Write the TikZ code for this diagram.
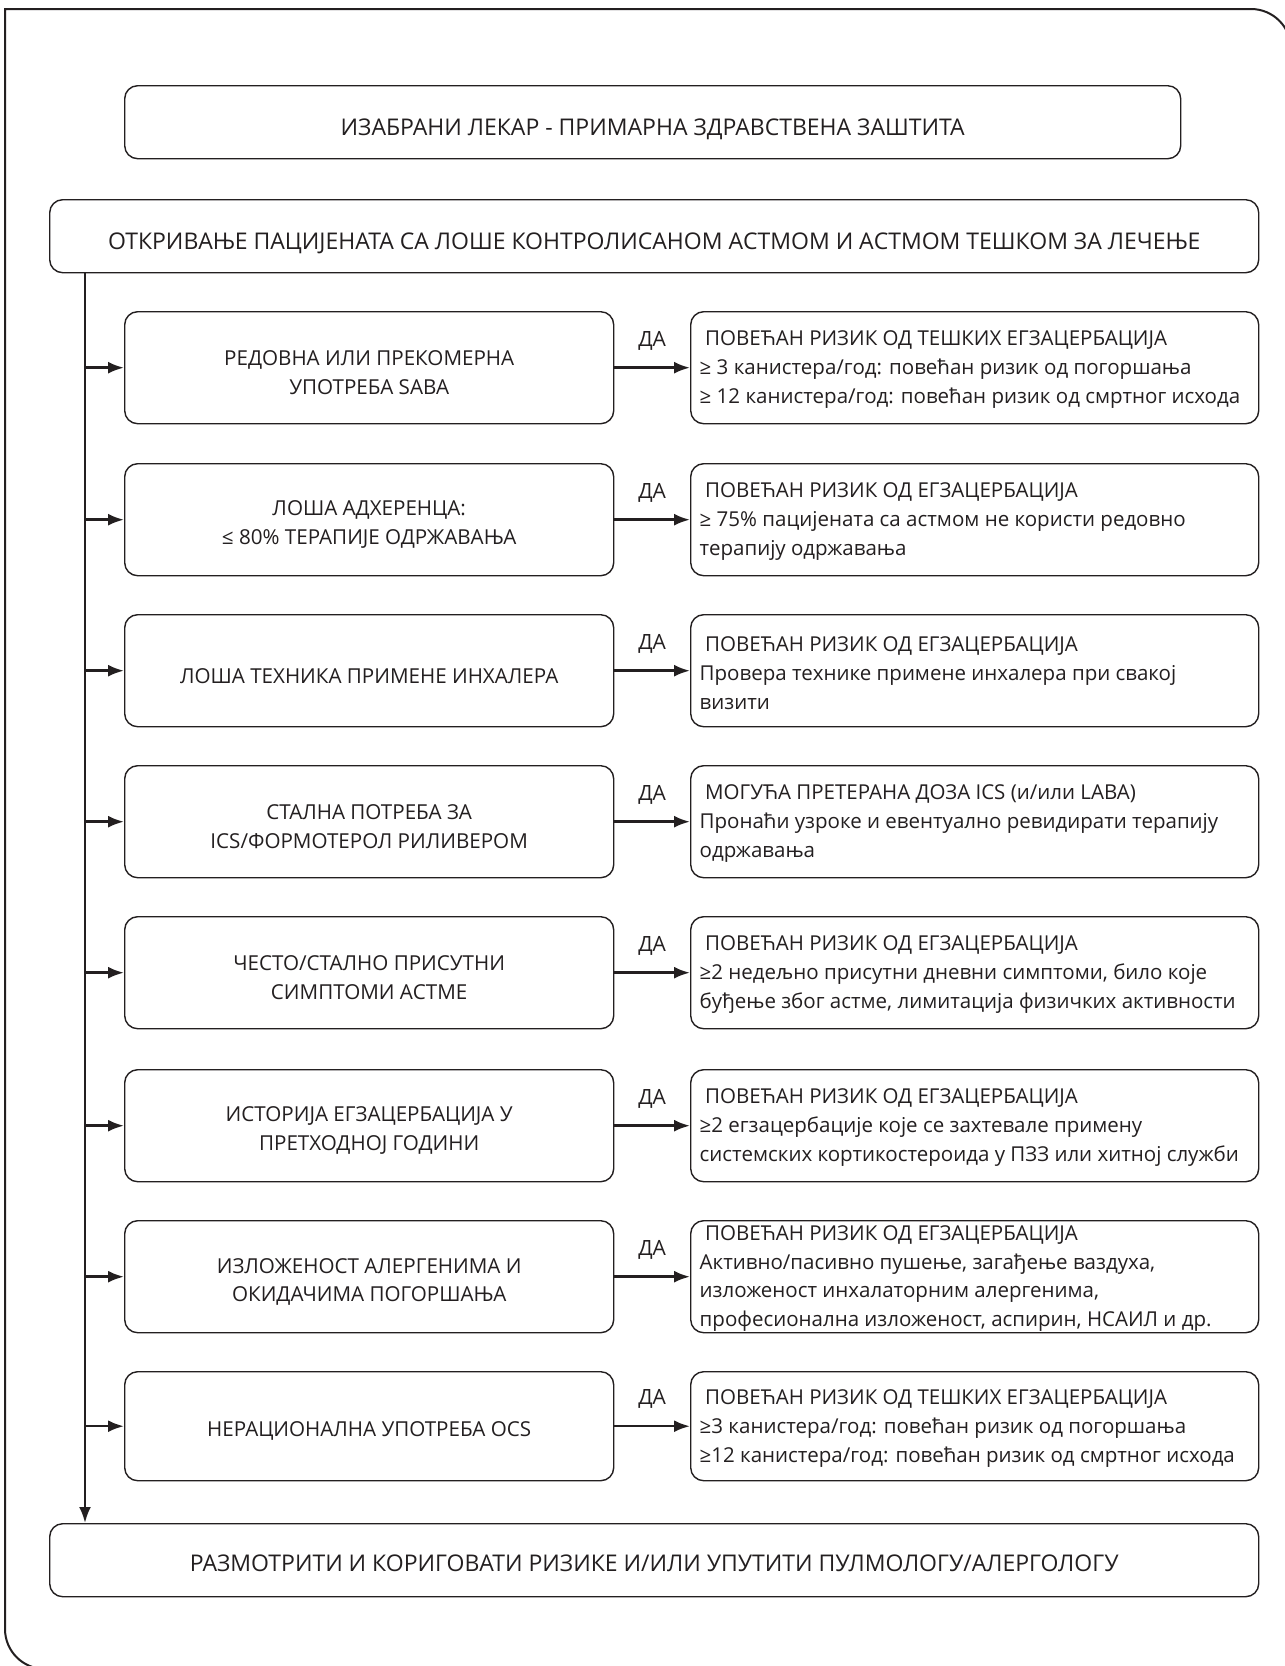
\documentclass[tikz,border=0pt]{standalone}
\usepackage{fontspec}
\setmainfont{Open Sans}
\usetikzlibrary{arrows.meta}
\definecolor{ink}{HTML}{231F20}
\tikzset{
  box/.style={draw=ink, line width=1.4pt, rounded corners=13pt, inner sep=0pt},
  lbox/.style={box, minimum width=489pt, minimum height=112pt, anchor=north west},
  rbox/.style={box, minimum width=568pt, minimum height=112pt, anchor=north west},
  ltext/.style={yshift=-5pt, inner sep=0pt, align=center, text=ink,
    font=\fontsize{20.6}{28.5}\selectfont},
  rtext/.style={anchor=west, yshift=-2pt, inner xsep=9.5pt, inner ysep=0pt, align=left, text=ink,
    font=\fontsize{20.5}{29}\selectfont},
  wide/.style={box, minimum width=1209pt, minimum height=73pt, anchor=north west},
  htext/.style={inner sep=0pt, text=ink, font=\fontsize{23}{29}\selectfont},
  conn/.style={draw=ink, line width=2.5pt, -{Latex[length=16pt,width=12pt]}},
  yes/.style={midway, yshift=27pt, text=ink, inner sep=0pt, font=\fontsize{21}{29}\selectfont},
}
\newcommand{\hd}{\hspace*{5.5pt}}
\begin{document}
\begin{tikzpicture}[x=1pt, y=-1pt]
\useasboundingbox (0,0) rectangle (1285,1666);
\fill[white] (0,0) rectangle (1285,1666);
% outer frame
\draw[ink, line width=2pt] (1291,1700) -- (1291,49) arc[start angle=0, end angle=-90, radius=40]
  -- (5,9) -- (5,1629) arc[start angle=180, end angle=90, radius=40] -- (1300,1669);

% header boxes
\node[box, minimum width=1056pt, minimum height=73pt, anchor=north west] (top) at (124,85) {};
\node[htext, yshift=-7pt] at (top.center)
  {ИЗАБРАНИ ЛЕКАР - ПРИМАРНА ЗДРАВСТВЕНА ЗАШТИТА};
\node[wide] (find) at (49,199) {};
\node[htext, yshift=-7pt] at (find.center)
  {ОТКРИВАЊЕ ПАЦИЈЕНАТА СА ЛОШЕ КОНТРОЛИСАНОМ АСТМОМ И АСТМОМ ТЕШКОМ ЗА ЛЕЧЕЊЕ};

% left column
\node[lbox] (l1) at (124,311) {};
\node[lbox] (l2) at (124,463) {};
\node[lbox] (l3) at (124,614) {};
\node[lbox] (l4) at (124,765) {};
\node[lbox] (l5) at (124,916) {};
\node[lbox] (l6) at (124,1069) {};
\node[lbox] (l7) at (124,1220) {};
\node[lbox, minimum height=109pt] (l8) at (124,1371) {};

\node[ltext] at (l1.center) {РЕДОВНА ИЛИ ПРЕКОМЕРНА\\УПОТРЕБА SABA};
\node[ltext] at (l2.center) {ЛОША АДХЕРЕНЦА:\\≤ 80\% ТЕРАПИЈЕ ОДРЖАВАЊА};
\node[ltext] at (l3.center) {ЛОША ТЕХНИКА ПРИМЕНЕ ИНХАЛЕРА};
\node[ltext] at (l4.center) {СТАЛНА ПОТРЕБА ЗА\\ICS/ФОРМОТЕРОЛ РИЛИВЕРОМ};
\node[ltext] at (l5.center) {ЧЕСТО/СТАЛНО ПРИСУТНИ\\СИМПТОМИ АСТМЕ};
\node[ltext] at (l6.center) {ИСТОРИЈА ЕГЗАЦЕРБАЦИЈА У\\ПРЕТХОДНОЈ ГОДИНИ};
\node[ltext] at (l7.center) {ИЗЛОЖЕНОСТ АЛЕРГЕНИМА И\\ОКИДАЧИМА ПОГОРШАЊА};
\node[ltext] at (l8.center) {НЕРАЦИОНАЛНА УПОТРЕБА OCS};

% right column
\node[rbox] (r1) at (690,311) {};
\node[rbox] (r2) at (690,463) {};
\node[rbox] (r3) at (690,614) {};
\node[rbox] (r4) at (690,765) {};
\node[rbox] (r5) at (690,916) {};
\node[rbox] (r6) at (690,1069) {};
\node[rbox] (r7) at (690,1220) {};
\node[rbox, minimum height=109pt] (r8) at (690,1371) {};

\node[rtext] at (r1.west) {\hd ПОВЕЋАН РИЗИК ОД ТЕШКИХ ЕГЗАЦЕРБАЦИЈА\\≥ 3 канистера/год: повећан ризик од погоршања\\≥ 12 канистера/год: повећан ризик од смртног исхода};
\node[rtext] at (r2.west) {\hd ПОВЕЋАН РИЗИК ОД ЕГЗАЦЕРБАЦИЈА\\≥ 75\% пацијената са астмом не користи редовно\\терапију одржавања};
\node[rtext] at (r3.west) {\hd ПОВЕЋАН РИЗИК ОД ЕГЗАЦЕРБАЦИЈА\\Провера технике примене инхалера при свакој\\визити};
\node[rtext] at (r4.west) {\hd МОГУЋА ПРЕТЕРАНА ДОЗА ICS (и/или LABA)\\Пронаћи узроке и евентуално ревидирати терапију\\одржавања};
\node[rtext] at (r5.west) {\hd ПОВЕЋАН РИЗИК ОД ЕГЗАЦЕРБАЦИЈА\\≥2 недељно присутни дневни симптоми, било које\\буђење због астме, лимитација физичких активности};
\node[rtext] at (r6.west) {\hd ПОВЕЋАН РИЗИК ОД ЕГЗАЦЕРБАЦИЈА\\≥2 егзацербације које се захтевале примену\\системских кортикостероида у ПЗЗ или хитној служби};
\node[rtext, font=\fontsize{20.5}{28.5}\selectfont] at (r7.west) {\hd ПОВЕЋАН РИЗИК ОД ЕГЗАЦЕРБАЦИЈА\\Активно/пасивно пушење, загађење ваздуха,\\изложеност инхалаторним алергенима,\\професионална изложеност, аспирин, НСАИЛ и др.};
\node[rtext] at (r8.west) {\hd ПОВЕЋАН РИЗИК ОД ТЕШКИХ ЕГЗАЦЕРБАЦИЈА\\≥3 канистера/год: повећан ризик од погоршања\\≥12 канистера/год: повећан ризик од смртног исхода};

% bottom box
\node[wide] (end) at (49,1523) {};
\node[htext, yshift=-3pt] at (end.center)
  {РАЗМОТРИТИ И КОРИГОВАТИ РИЗИКЕ И/ИЛИ УПУТИТИ ПУЛМОЛОГУ/АЛЕРГОЛОГУ};

% trunk line
\coordinate (t0) at (85,272);
\coordinate (t1) at (85,1523);
\draw[conn] (t0) -- (t1);

% branches and yes-arrows
\foreach \i in {1,...,8} {
  \draw[conn] (t0 |- l\i.west) -- (l\i.west);
  \draw[conn] (l\i.east) -- (r\i.west) node[yes] {ДА};
}
\end{tikzpicture}
\end{document}
